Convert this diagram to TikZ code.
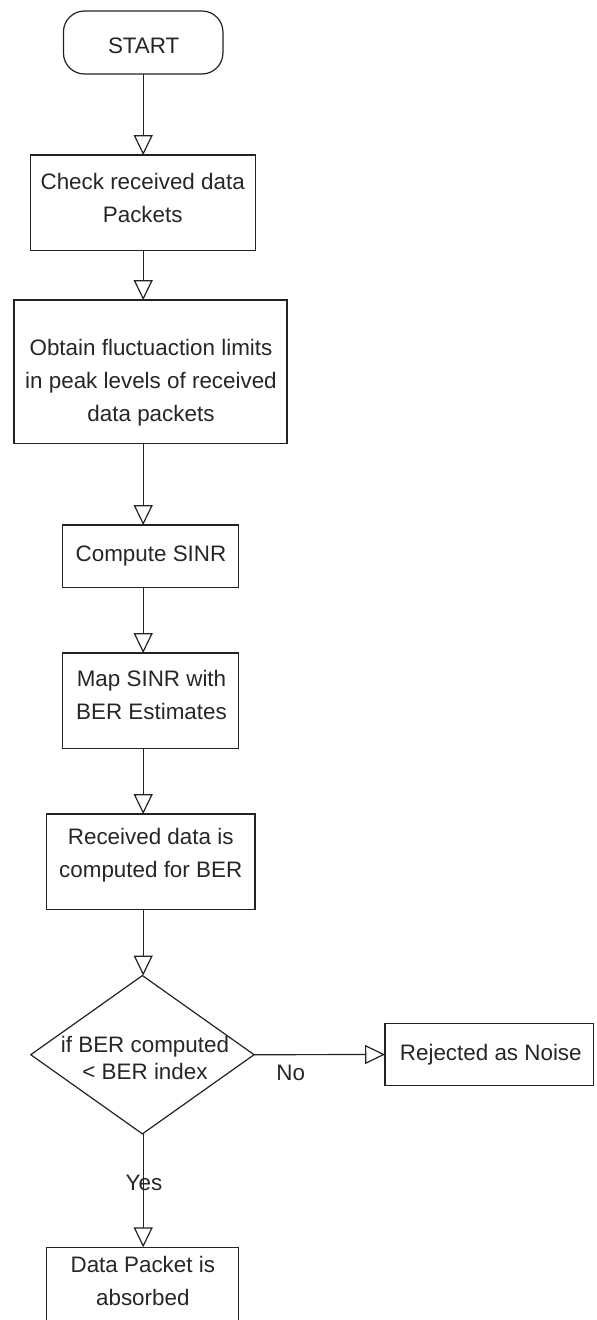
\documentclass[tikz,border=0pt]{standalone}
\usepackage{fontspec}
\setmainfont{Liberation Sans}
\usetikzlibrary{arrows.meta,shapes.geometric}
\definecolor{linecol}{RGB}{34,34,34}
\definecolor{txtcol}{RGB}{38,38,38}
\begin{document}
\begin{tikzpicture}[x=1pt,y=-1pt,
  every node/.style={inner sep=0pt, outer sep=0pt},
  box/.style={draw=linecol, line width=1.2pt, rectangle},
  txt/.style={text=txtcol, align=center, font=\fontsize{22.4}{33}\selectfont},
  arr/.style={draw=linecol, line width=1.2pt, -{Triangle[open, length=20pt, width=19pt]}}]
\path[use as bounding box] (0,0) rectangle (597,1320);
\clip (0,0) rectangle (597,1320);
% shapes
\node[box, rounded corners=21pt, minimum width=159.5pt, minimum height=63pt] (start) at (143.2,42.5) {};
\node[box, minimum width=224.6pt, minimum height=95.7pt] (b1) at (143,202.9) {};
\node[box, minimum width=273pt, minimum height=143.3pt] (b2) at (150.5,371.7) {};
\node[box, minimum width=176pt, minimum height=62.3pt] (b3) at (150.7,556.2) {};
\node[box, minimum width=176pt, minimum height=95.3pt] (b4) at (150.7,700.7) {};
\node[box, minimum width=208.3pt, minimum height=95.3pt] (b5) at (150.8,861.7) {};
\node[draw=linecol, line width=1.2pt, diamond, minimum width=223.3pt, minimum height=158.3pt] (dia) at (142.4,1054.7) {};
\node[box, minimum width=208.3pt, minimum height=62.4pt] (rej) at (489.2,1054.5) {};
\node[box, minimum width=192pt, minimum height=95.3pt] (last) at (142.7,1295) {};
% texts
\node[txt] (tstart) at (143.7,46) {START};
\node[txt] (t1) at (142.7,198) {Check received data\\Packets};
\node[txt] (t2) at (151,383) {Obtain fluctuaction limits\\in peak levels of received\\data packets};
\node[txt] (t3) at (151,556) {Compute SINR};
\node[txt] (t4) at (151.5,694.5) {Map SINR with\\BER Estimates};
\node[txt] (t5) at (150.7,855.5) {Received data is\\computed for BER};
\node[txt, font=\fontsize{22.4}{26.6}\selectfont] (tdia) at (145,1058) {if BER computed\\< BER index};
\node[txt] (trej) at (490.8,1055) {Rejected as Noise};
\node[txt] (tlast) at (142.8,1281.4) {Data Packet is\\absorbed};
% connectors
\draw[arr] (start.south) -- (start.south |- b1.north);
\draw[arr] (b1.south -| start.south) -- (b2.north -| start.south);
\draw[arr] (b2.south -| start.south) -- (b3.north -| start.south);
\draw[arr] (b3.south -| start.south) -- (b4.north -| start.south);
\draw[arr] (b4.south -| start.south) -- (b5.north -| start.south);
\draw[arr] (b5.south -| start.south) -- (dia.north -| start.south);
\draw[arr] (dia.east) -- (rej.west);
\draw[arr] (dia.south -| start.south) -- (last.north -| start.south);
% edge labels
\node[txt] (no) at (290.7,1073) {No};
\node[txt] (yes) at (144,1182.7) {Yes};
\end{tikzpicture}
\end{document}
